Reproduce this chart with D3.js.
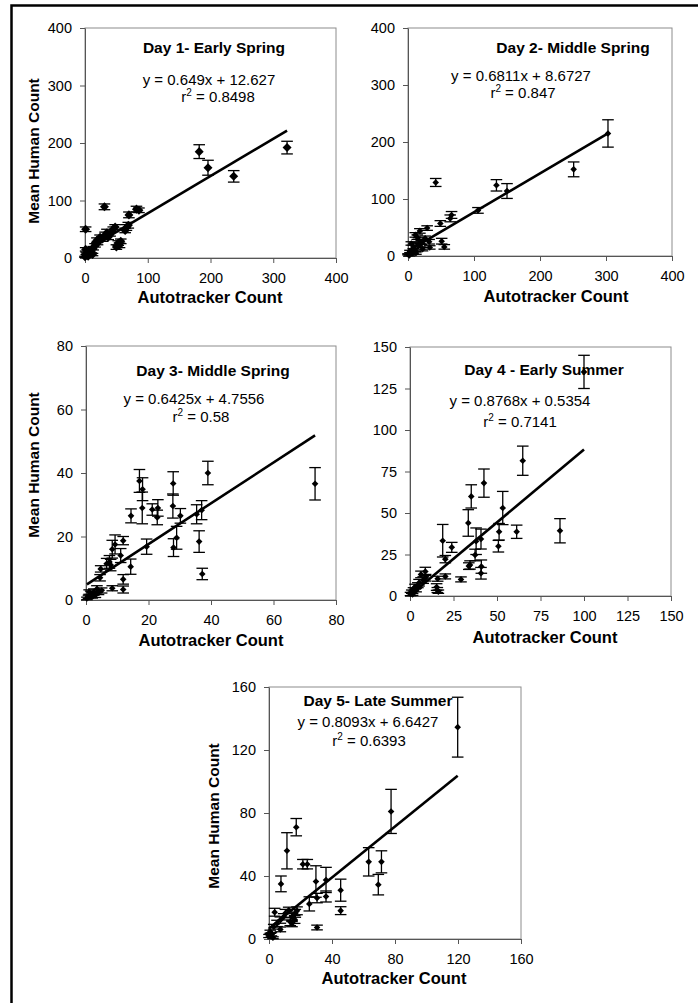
<!DOCTYPE html>
<html>
<head>
<meta charset="utf-8">
<script src="https://cdn.jsdelivr.net/npm/d3@7"></script>
<style>
  body { margin: 0; background: #fff; }
  svg { display: block; font-family: "Liberation Sans", Arial, sans-serif; }
</style>
</head>
<body>
<svg id="chart" width="698" height="1003"></svg>
<script>
// titles / labels
var titles = ["Day 1- Early Spring", "Day 2- Middle Spring", "Day 3- Middle Spring", "Day 4 - Early Summer", "Day 5- Late Summer"];
var equations = ["y = 0.649x + 12.627", "y = 0.6811x + 8.6727", "y = 0.6425x + 4.7556", "y = 0.8768x + 0.5354", "y = 0.8093x + 6.6427"];
var rsq = ["0.8498", "0.847", "0.58", "0.7141", "0.6393"];
var slopes = [0.649, 0.6811, 0.6425, 0.8768, 0.8093];
var intercepts = [12.627, 8.6727, 4.7556, 0.5354, 6.6427];
var xTitle = "Autotracker Count";
var yTitle = "Mean Human Count";

// tick labels
var ticks400 = [0, 100, 200, 300, 400];
var ticks80 = [0, 20, 40, 60, 80];
var ticks150 = [0, 25, 50, 75, 100, 125, 150];
var ticks160 = [0, 40, 80, 120, 160];

// Day 1
var day1X = [322, 182, 196, 237, 31, 82, 86, 70, 1, 48, 45, 66, 69, 64, 35, 32, 37, 24, 28, 19, 16, 13, 55, 50, 53, 57, 10, 8, 1, 3, 0, 5, 2, 12, 20, 40];
var day1Y = [192, 185, 157, 142, 89, 85, 83, 75, 50, 54, 50, 53, 57, 48, 44, 40, 36, 36, 33, 31, 22, 17, 22, 19, 26, 29, 12, 8, 15, 5, 2, 3, 8, 6, 26, 42];
var day1E = [11, 12, 13, 10, 5, 5, 4, 5, 4, 4, 4, 5, 5, 4, 6, 5, 4, 4, 4, 4, 3, 3, 4, 4, 4, 4, 3, 2, 3, 2, 1, 1, 2, 2, 3, 4];

// Day 2
var day2X = [303, 251, 134, 150, 42, 106, 66, 64, 49, 29, 18, 51, 55, 11, 16, 26, 32, 8, 18, 3, 0, 33, 11, 5, 14, 22, 7, 2, 20, 12];
var day2Y = [215, 152, 124, 114, 129, 80, 72, 66, 57, 49, 44, 26, 16, 37, 28, 31, 25, 16, 19, 8, 3, 15, 10, 22, 33, 12, 5, 1, 24, 5];
var day2E = [24, 13, 10, 13, 7, 5, 6, 6, 5, 4, 4, 5, 4, 4, 4, 4, 4, 3, 3, 2, 1, 3, 2, 3, 4, 3, 2, 1, 4, 2];

// Day 3
var day3X = [73.3, 39, 27.9, 27.8, 30.2, 35.4, 37, 36.2, 37.2, 29, 28, 19.4, 18, 18.1, 17.1, 14.4, 21.2, 22.8, 23, 14.3, 11.9, 11.9, 8.4, 11.1, 11.9, 9.3, 8.4, 7.5, 7.9, 6.6, 4.7, 4.5, 3.5, 2.5, 1.5, 0.8, 4, 2, 0.3, 3, 1, 5];
var day3Y = [36.6, 40, 36.7, 29.6, 26.5, 27, 28.3, 18.4, 8.2, 19.6, 16.5, 16.8, 29, 34.9, 37.5, 26.5, 28.5, 26, 29, 10.5, 6.5, 3.3, 3.7, 14, 18.7, 17.5, 16, 12, 11, 11.4, 9.8, 7, 3.5, 2.5, 2, 1, 2.5, 1.2, 0.5, 1.5, 2.5, 3];
var day3E = [5.1, 3.7, 3.7, 3.8, 2.3, 3, 3, 3.4, 1.8, 3.6, 2.8, 2.4, 5, 3.6, 3.6, 2.2, 1.8, 2.3, 2.6, 2.4, 1.5, 1.1, 0.8, 2.2, 1.3, 3, 2.8, 2, 1.8, 1.7, 1, 1, 1, 1, 0.8, 0.5, 0.8, 0.6, 0.4, 0.7, 0.7, 0.8];

// Day 4
var day4X = [100, 64.8, 42.5, 35.2, 33.5, 53.3, 51.2, 50.8, 61.3, 86.2, 18.8, 20.3, 24, 40.8, 38, 37.4, 34.5, 33.8, 41, 40.8, 29.3, 20.3, 15.9, 15.3, 15.7, 16.3, 8.8, 6.3, 5.2, 7.6, 9, 2.9, 1, 0.3, 3.5, 2, 4.5, 1.5];
var day4Y = [135, 81.5, 68, 60, 44, 53, 38.7, 30, 38.7, 39.3, 33.3, 22.2, 29.3, 34.3, 33, 24.7, 18.7, 18, 17.7, 13.7, 10, 11.8, 10.4, 5.4, 3.6, 2.6, 14.8, 13, 8, 9.6, 11, 5.6, 2.6, 1.2, 3.5, 4, 6.5, 1];
var day4E = [10, 8.8, 8.5, 7, 8, 10, 5, 3.5, 4, 7.3, 9.8, 2.2, 3, 6, 8, 3.5, 2.5, 2, 4, 3.5, 1.5, 1.5, 1.5, 2, 1.5, 1, 2.5, 2, 2, 2, 2, 1.5, 1, 1, 1, 1, 1.5, 0.6];

// Day 5
var day5X = [119.8, 77.5, 17.3, 11.4, 7.6, 21.5, 24.3, 29.8, 36.2, 30.5, 36.2, 25.6, 45.5, 45.5, 30.5, 63.3, 71.4, 69.4, 3.6, 10.4, 12.5, 16.7, 14.6, 13.5, 9.3, 7.2, 5.1, 3, 0.8, 0, 7.2, 16.3, 17.8, 14.6, 1.5, 2.5];
var day5Y = [134.5, 81, 71, 56, 35, 47.5, 47.5, 36.5, 37.5, 26, 27, 22.3, 31, 18, 7.3, 49, 49, 34.5, 17, 16.3, 18.2, 16.3, 14.1, 11, 14.1, 12, 9.9, 7.8, 4.6, 1.9, 6.1, 12.4, 17.9, 9.8, 3, 0.8];
var day5E = [19, 14, 5.5, 11.5, 5, 3, 3, 10, 8, 3, 3.5, 4.5, 7, 2.5, 1.5, 9, 7, 6.5, 2.5, 2.5, 2, 2.5, 3, 2.5, 2, 2, 2, 1.5, 1, 1, 1.5, 2.5, 2.5, 2, 1, 0.6];

// layout
var panels = [
  {xs: day1X, ys: day1Y, es: day1E, ticks: ticks400, l: 85, t: 28, r: 336, b: 258, mk: 4.5,
   titleAt: [214, 53], eqAt: [209, 85], rAt: [218, 102], xtAt: [210, 303], ytAt: [33, 151]},
  {xs: day2X, ys: day2Y, es: day2E, ticks: ticks400, l: 408, t: 28, r: 672, b: 256, mk: 3.3,
   titleAt: [573, 53], eqAt: [521, 81], rAt: [523, 98], xtAt: [556, 302], ytAt: null},
  {xs: day3X, ys: day3Y, es: day3E, ticks: ticks80, l: 86, t: 346, r: 336, b: 600, mk: 3.3,
   titleAt: [213, 376], eqAt: [194, 404], rAt: [201, 422], xtAt: [211, 646], ytAt: [33, 465]},
  {xs: day4X, ys: day4Y, es: day4E, ticks: ticks150, l: 410, t: 347, r: 671, b: 596, mk: 3.3,
   titleAt: [544, 375], eqAt: [520, 406], rAt: [520, 427], xtAt: [545, 643], ytAt: null},
  {xs: day5X, ys: day5Y, es: day5E, ticks: ticks160, l: 269, t: 687, r: 521, b: 939, mk: 3.3,
   titleAt: [378, 706], eqAt: [368, 727], rAt: [369, 746], xtAt: [394, 984], ytAt: [213, 816]}
];

var svg = d3.select("#chart");

// outer frame (runs off the right and bottom of the picture)
svg.append("path")
  .attr("d", "M11.5,1003 L11.5,5.5 L698,5.5")
  .attr("fill", "none")
  .attr("stroke", "#000")
  .attr("stroke-width", 2.5);

panels.forEach(function(p, i) {
  var dom = [0, p.ticks[p.ticks.length - 1]];
  var x = d3.scaleLinear().domain(dom).range([p.l, p.r]);
  var y = d3.scaleLinear().domain(dom).range([p.b, p.t]);
  var g = svg.append("g");

  // plot area frame
  g.append("rect")
    .attr("x", p.l).attr("y", p.t)
    .attr("width", p.r - p.l).attr("height", p.b - p.t)
    .attr("fill", "#fff").attr("stroke", "#8c8c8c").attr("stroke-width", 1);

  var xa = g.append("g").attr("transform", "translate(0," + p.b + ")")
    .call(d3.axisBottom(x).tickValues(p.ticks).tickSize(5).tickSizeOuter(0).tickPadding(10));
  var ya = g.append("g").attr("transform", "translate(" + p.l + ",0)")
    .call(d3.axisLeft(y).tickValues(p.ticks).tickSize(5).tickSizeOuter(0).tickPadding(8));
  [xa, ya].forEach(function(a) {
    a.selectAll("path, line").attr("stroke", "#555");
    a.selectAll("text").attr("fill", "#000").style("font-size", "14.5px")
      .style("font-family", "'Liberation Sans', Arial, sans-serif");
  });

  // error bars
  var idx = d3.range(p.xs.length);
  var eb = g.append("g").attr("stroke", "#000").attr("stroke-width", 1.3);
  eb.selectAll("line.v").data(idx).enter().append("line")
    .attr("x1", function(k) { return x(p.xs[k]); })
    .attr("x2", function(k) { return x(p.xs[k]); })
    .attr("y1", function(k) { return y(p.ys[k] - p.es[k]); })
    .attr("y2", function(k) { return y(p.ys[k] + p.es[k]); });
  [1, -1].forEach(function(sg) {
    eb.selectAll("line.c" + sg).data(idx).enter().append("line")
      .attr("x1", function(k) { return x(p.xs[k]) - 5.8; })
      .attr("x2", function(k) { return x(p.xs[k]) + 5.8; })
      .attr("y1", function(k) { return y(p.ys[k] + sg * p.es[k]); })
      .attr("y2", function(k) { return y(p.ys[k] + sg * p.es[k]); });
  });

  // diamond markers
  var sym = d3.symbol().type(d3.symbolSquare).size(2 * p.mk * p.mk);
  g.selectAll("path.mk").data(idx).enter().append("path")
    .attr("d", sym)
    .attr("transform", function(k) { return "translate(" + x(p.xs[k]) + "," + y(p.ys[k]) + ") rotate(45)"; })
    .attr("fill", "#000");

  // linear trend line
  var x0 = d3.min(p.xs), x1 = d3.max(p.xs);
  g.append("line")
    .attr("x1", x(x0)).attr("y1", y(slopes[i] * x0 + intercepts[i]))
    .attr("x2", x(x1)).attr("y2", y(slopes[i] * x1 + intercepts[i]))
    .attr("stroke", "#000").attr("stroke-width", 2.6);

  // texts
  g.append("text").attr("x", p.titleAt[0]).attr("y", p.titleAt[1])
    .attr("text-anchor", "middle").style("font-size", "15.5px").style("font-weight", "bold")
    .text(titles[i]);
  g.append("text").attr("x", p.eqAt[0]).attr("y", p.eqAt[1])
    .attr("text-anchor", "middle").style("font-size", "15px")
    .text(equations[i]);
  var rt = g.append("text").attr("x", p.rAt[0]).attr("y", p.rAt[1])
    .attr("text-anchor", "middle").style("font-size", "15px");
  rt.append("tspan").text("r");
  rt.append("tspan").attr("dy", -6).style("font-size", "10px").text("2");
  rt.append("tspan").attr("dy", 6).text(" = " + rsq[i]);

  g.append("text").attr("x", p.xtAt[0]).attr("y", p.xtAt[1])
    .attr("text-anchor", "middle").style("font-size", "16.5px").style("font-weight", "bold")
    .text(xTitle);
  if (p.ytAt) {
    g.append("text")
      .attr("transform", "translate(" + (p.ytAt[0] + 6) + "," + p.ytAt[1] + ") rotate(-90)")
      .attr("text-anchor", "middle").style("font-size", "15.5px").style("font-weight", "bold")
      .text(yTitle);
  }
});
</script>
</body>
</html>
